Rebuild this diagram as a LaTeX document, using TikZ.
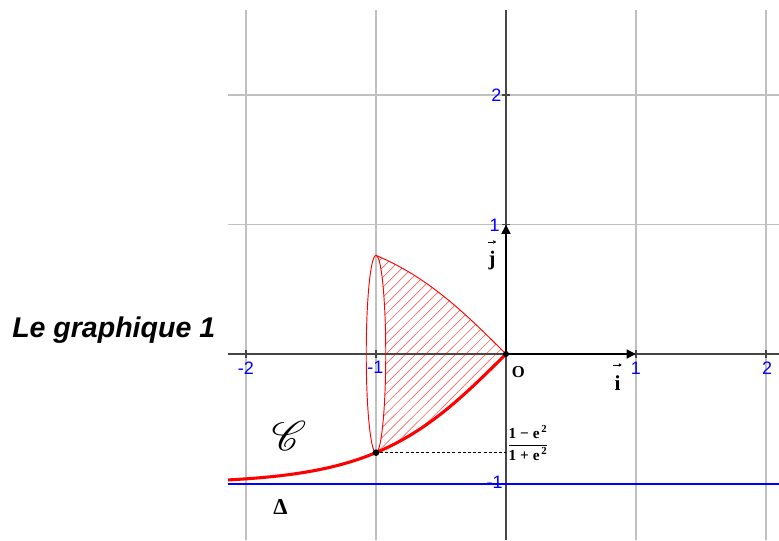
\documentclass[tikz,border=0pt]{standalone}
\usepackage{fontspec}
\usepackage{amsmath}
\usepackage{mathrsfs}
\setmainfont{Liberation Serif}
\newfontfamily\arial{Liberation Sans}
\usetikzlibrary{arrows.meta}
\definecolor{gridgray}{RGB}{192,192,192}
\definecolor{axisgray}{RGB}{70,70,70}
\definecolor{tickblue}{RGB}{0,0,255}
\definecolor{curvered}{RGB}{255,0,0}
\tikzset{
  gridline/.style={draw=gridgray, line width=1.1pt},
  axisline/.style={draw=axisgray, line width=1.4pt},
  ticklabel/.style={text=tickblue, font=\arial\fontsize{13.5}{15}\selectfont, inner sep=0pt},
  vecarrow/.style={draw=black, line width=1.8pt, -{Triangle[length=7pt,width=6.5pt]}},
  smallarrow/.style={draw=black, line width=0.6pt, -{Triangle[length=2.2pt,width=2.6pt]}},
  curvethick/.style={draw=curvered, line width=2.3pt},
  curvethin/.style={draw=curvered, line width=0.7pt},
  hatch/.style={draw=curvered, line width=0.5pt, opacity=0.6},
  lbl/.style={inner sep=0pt, font=\bfseries},
  dotpt/.style={circle, fill=black, inner sep=0pt, minimum size=5pt}
}
\begin{document}
\begin{tikzpicture}[x=97.5pt,y=97.125pt]
\useasboundingbox (-3.8923,-1.4363) rectangle (2.1,2.7336);
% grid
\foreach \x in {-2,-1,1,2} \draw[gridline] (\x,-1.4363) -- (\x,2.656);
\foreach \y in {1,2} \draw[gridline] (-2.138,\y) -- (2.1,\y);
% axes
\draw[axisline] (-2.138,0) -- (2.1,0);
\draw[axisline] (0,-1.4363) -- (0,2.656);
\foreach \x in {-2,-1,1,2} \draw[axisline] (\x,-0.03) -- (\x,0.03);
\foreach \y in {-1,1,2} \draw[axisline] (-0.03,\y) -- (0.03,\y);
% Delta line
\draw[draw=tickblue, line width=1.5pt] (-2.138,-1) -- (2.1,-1);
% hatching
\begin{scope}
\clip plot[domain=-1:0, samples=40] (\x,{-tanh(\x)}) -- plot[domain=0:-1, samples=40] (\x,{tanh(\x)})
  arc[start angle=-90, end angle=90, x radius=0.075, y radius=0.76159];
\foreach \c in {0.0,0.077,...,1.9} \draw[hatch] (-1.2,{-1.2+\c}) -- (0.2,{0.2+\c});
\end{scope}
% ellipse and upper curve
\draw[curvethin] (-1,0) ellipse [x radius=0.075, y radius=0.76159];
\draw[curvethin] plot[domain=-1:0, samples=40] (\x,{-tanh(\x)});
% curve C
\draw[curvethick] plot[domain=-2.138:0, samples=90] (\x,{tanh(\x)});
% points
\coordinate (O) at (0,0);
\coordinate (I) at (1,0);
\coordinate (J) at (0,1);
\node[dotpt] (A) at (-1,-0.76159) {};
\coordinate (B) at (0,-0.76159);
\node[dotpt, minimum size=4.5pt] (Odot) at (O) {};
\draw[black, line width=0.7pt, dash pattern=on 2.3pt off 1.6pt] (A) -- (B);
% vectors
\draw[vecarrow] (O) -- (I);
\draw[vecarrow] (O) -- (J);
% tick labels
\node[ticklabel] (tx1) at (-2.0,-0.106) {-2};
\node[ticklabel] (tx2) at (-1.004,-0.106) {-1};
\node[ticklabel] (tx3) at (1.0,-0.108) {1};
\node[ticklabel] (tx4) at (2.008,-0.108) {2};
\node[ticklabel, anchor=east] (ty2) at (-0.033,2.0) {2};
\node[ticklabel, anchor=east] (ty1) at (-0.046,0.99) {1};
\node[ticklabel, anchor=east] (tym) at (-0.023,-0.99) {-1};
% labels
\node[lbl, font=\bfseries\fontsize{12.5}{14}\selectfont] (Olbl) at (0.096,-0.143) {O};
\node[lbl, font=\bfseries\fontsize{16}{18}\selectfont, anchor=base] (ilbl) at (0.858,-0.28) {i};
\draw[smallarrow] (0.825,-0.085) -- (0.89,-0.085);
\node[lbl, font=\bfseries\fontsize{15.5}{18}\selectfont, anchor=base] (jlbl) at (-0.108,0.683) {j};
\draw[smallarrow] (-0.14,0.865) -- (-0.075,0.865);
\node[inner sep=0pt, font=\fontsize{11.5}{13}\selectfont] (frac) at (0.17,-0.69)
  {$\dfrac{\text{\bfseries 1 − e}^{\,\text{\bfseries 2}}}{\text{\bfseries 1 + e}^{\,\text{\bfseries 2}}}$};
\node[inner sep=0pt, scale=1.5, font=\fontsize{20}{24}\selectfont] (Clbl) at (-1.669,-0.633) {$\mathscr{C}$};
\node[lbl, font=\bfseries\fontsize{17}{19}\selectfont] (Dlbl) at (-1.735,-1.178) {Δ};
\node[inner sep=0pt, anchor=base west, font=\arial\bfseries\itshape\fontsize{21.4}{24}\selectfont] (title) at (-3.8,0.1236) {Le graphique 1};
\end{tikzpicture}
\end{document}
